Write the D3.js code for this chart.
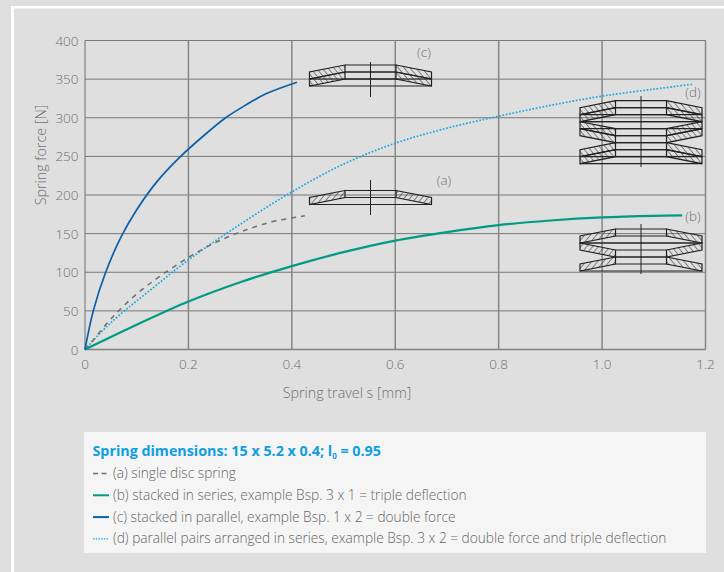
<!DOCTYPE html>
<html>
<head>
<meta charset="utf-8">
<script src="https://cdn.jsdelivr.net/npm/d3@7"></script>
<style>
  html, body { margin: 0; padding: 0; background: #dfdfdf; }
  svg { display: block; font-family: "Open Sans", sans-serif; font-weight: 300; }
</style>
</head>
<body>
<svg id="chart" width="724" height="572"></svg>
<script>
// Values
const xTicks = [0, 0.2, 0.4, 0.6, 0.8, 1.0, 1.2];
const yTicks = [0, 50, 100, 150, 200, 250, 300, 350, 400];
const xTickLabels = ["0", "0.2", "0.4", "0.6", "0.8", "1.0", "1.2"];

const travelA = [0, 0.013, 0.048, 0.102, 0.183, 0.245, 0.3, 0.36, 0.425];
const forceA = [0, 10, 38, 73, 112, 136, 152, 165, 173];

const travelB = [0, 0.1, 0.2, 0.3, 0.4, 0.5, 0.6, 0.7, 0.8, 0.9, 1.0, 1.1, 1.155];
const forceB = [0, 32, 62, 87, 108, 126, 141, 152, 161, 167, 171, 173, 173.5];

const travelC = [0, 0.016, 0.04, 0.07, 0.1, 0.14, 0.185, 0.23, 0.272, 0.31, 0.35, 0.41];
const forceC = [0, 50, 100, 146, 181, 218, 250, 277, 300, 316, 331, 346];

const travelD = [0, 0.035, 0.0675, 0.132, 0.2, 0.3, 0.4, 0.5, 0.6, 0.7, 0.8, 0.9, 1.0, 1.1, 1.176];
const forceD = [0, 25, 45, 80, 116, 162, 204, 240, 267, 286.5, 302, 316, 328, 337, 343.5];

const legendLines = [
  "(a) single disc spring",
  "(b) stacked in series, example Bsp. 3 x 1 = triple deflection",
  "(c) stacked in parallel, example Bsp. 1 x 2 = double force",
  "(d) parallel pairs arranged in series, example Bsp. 3 x 2 = double force and triple deflection"
];

const textColor = "#6f6f6f";
const green = "#009b84", blue = "#0a5fa8", cyan = "#19a9e2", dash = "#6f6f6f";
const ink = "#222";

const svg = d3.select("#chart");

// white corner of the frame
svg.append("rect").attr("x", 11).attr("y", 6).attr("width", 713).attr("height", 2.5).attr("fill", "#fff");
svg.append("rect").attr("x", 11).attr("y", 6).attr("width", 3).attr("height", 566).attr("fill", "#fff");

const x = d3.scaleLinear().domain([0, 1.2]).range([85, 705.5]);
const y = d3.scaleLinear().domain([0, 400]).range([349.5, 40.5]);

// grid
svg.append("g").selectAll("line").data(yTicks).enter().append("line")
  .attr("x1", x(0)).attr("x2", x(1.2))
  .attr("y1", d => y(d)).attr("y2", d => y(d))
  .attr("stroke", d => d === 0 ? "#808080" : "#777").attr("stroke-width", d => d === 0 ? 1.4 : 1);
svg.append("g").selectAll("line").data(xTicks).enter().append("line")
  .attr("x1", d => x(d)).attr("x2", d => x(d))
  .attr("y1", y(400)).attr("y2", y(0))
  .attr("stroke", d => d === 0 ? "#6e6e6e" : "#868686").attr("stroke-width", d => d === 0 ? 1 : 1.5);

// tick labels
svg.append("g").selectAll("text").data(yTicks).enter().append("text")
  .attr("x", 78.5).attr("y", d => y(d) + 5)
  .attr("text-anchor", "end").attr("font-size", 13.5).attr("fill", textColor)
  .text(d => d);
svg.append("g").selectAll("text").data(xTicks).enter().append("text")
  .attr("x", d => x(d)).attr("y", 369)
  .attr("text-anchor", "middle").attr("font-size", 13.5).attr("fill", textColor)
  .text((d, i) => xTickLabels[i]);

svg.append("text").attr("x", 347).attr("y", 398)
  .attr("text-anchor", "middle").attr("font-size", 14.3).attr("fill", textColor)
  .text("Spring travel s [mm]");
svg.append("text").attr("transform", "translate(46,155) rotate(-90)")
  .attr("text-anchor", "middle").attr("font-size", 14.3).attr("fill", textColor)
  .text("Spring force [N]");

// hatch for the disc sections
const defs = svg.append("defs");
[["hatchF", 40], ["hatchB", -40]].forEach(([id, angle]) => {
  defs.append("pattern")
    .attr("id", id).attr("patternUnits", "userSpaceOnUse")
    .attr("width", 4.5).attr("height", 6).attr("patternTransform", `rotate(${angle})`)
    .append("line").attr("x1", 0).attr("x2", 0).attr("y1", 0).attr("y2", 6)
    .attr("stroke", "#333").attr("stroke-width", 1.1);
});

// one disc section: t is the top of the inner edge, flip turns the cone over
function disc(g, cx, t, flip, hatchL, hatchR) {
  const ri = 25.5, ro = 61, h = 7;
  const inTop = flip ? t + h : t, outTop = flip ? t : t + h;
  [[-1, hatchL], [1, hatchR]].forEach(([s, f]) => {
    g.append("path")
      .attr("d", `M${cx + s * ri},${inTop}L${cx + s * ro},${outTop}L${cx + s * ro},${outTop + h}L${cx + s * ri},${inTop + h}Z`)
      .attr("fill", `url(#${f})`).attr("stroke", ink).attr("stroke-width", 1.2);
  });
  [[ri, inTop], [ri, inTop + h], [ro, flip ? outTop : outTop + h]].forEach(([r, ly]) => {
    g.append("line").attr("x1", cx - r).attr("x2", cx + r).attr("y1", ly).attr("y2", ly)
      .attr("stroke", ink).attr("stroke-width", 1.2);
  });
}

// rows: offset from the top, flipped or not
function drawStack(cx, top, rows, hatchL, hatchR, y1, y2) {
  const g = svg.append("g");
  rows.forEach(r => disc(g, cx, top + r[0], r[1], hatchL, hatchR));
  g.append("line").attr("x1", cx).attr("x2", cx).attr("y1", y1).attr("y2", y2)
    .attr("stroke", ink).attr("stroke-width", 1);
}
drawStack(370.5, 65, [[0, false], [7, false]], "hatchB", "hatchB", 62, 97);
drawStack(370.5, 190.5, [[0, false]], "hatchF", "hatchF", 180, 215);
drawStack(641, 229, [[0, false], [14, true], [28, false]], "hatchF", "hatchB", 224, 274);
drawStack(641, 100.7, [[0, false], [7, false], [21, true], [28, true], [42, false], [49, false]], "hatchB", "hatchB", 96, 167);

// curves
const line = d3.line().x(d => x(d[0])).y(d => y(d[1])).curve(d3.curveCatmullRom.alpha(0.5));

svg.append("path").datum(d3.zip(travelD, forceD)).attr("d", line)
  .attr("fill", "none").attr("stroke", cyan).attr("stroke-width", 1.7).attr("stroke-dasharray", "1.7 1.7");
svg.append("path").datum(d3.zip(travelA, forceA)).attr("d", line)
  .attr("fill", "none").attr("stroke", dash).attr("stroke-width", 1.5).attr("stroke-dasharray", "5 5");
svg.append("path").datum(d3.zip(travelB, forceB)).attr("d", line)
  .attr("fill", "none").attr("stroke", green).attr("stroke-width", 2.2);
svg.append("path").datum(d3.zip(travelC, forceC)).attr("d", line)
  .attr("fill", "none").attr("stroke", blue).attr("stroke-width", 1.7);

// curve letters
const letters = [["(c)", 424, 57], ["(a)", 444, 185], ["(d)", 693, 97], ["(b)", 693, 221]];
svg.append("g").selectAll("text").data(letters).enter().append("text")
  .attr("x", d => d[1]).attr("y", d => d[2])
  .attr("text-anchor", "middle").attr("font-size", 13.5).attr("fill", textColor)
  .text(d => d[0]);

// legend box
svg.append("rect").attr("x", 84).attr("y", 432).attr("width", 622).attr("height", 121).attr("fill", "#f5f5f5");

const title = svg.append("text").attr("x", 92.5).attr("y", 456)
  .attr("font-size", 14.3).attr("font-weight", 700).attr("fill", "#0e9fe0");
title.append("tspan").text("Spring dimensions: 15 x 5.2 x 0.4; l");
title.append("tspan").attr("font-size", 8).attr("dy", 3).text("0");
title.append("tspan").attr("dy", -3).text(" = 0.95");

svg.append("g").selectAll("text").data(legendLines).enter().append("text")
  .attr("x", 113).attr("y", (d, i) => 478 + i * 21.8)
  .attr("font-size", 13.7).attr("fill", "#666")
  .text(d => d);

const keys = [[dash, 1.5, "5 3.5"], [green, 2, null], [blue, 2, null], [cyan, 1.3, "1.5 1.2"]];
svg.append("g").selectAll("line").data(keys).enter().append("line")
  .attr("x1", 93).attr("x2", 109)
  .attr("y1", (d, i) => 473.5 + i * 21.8).attr("y2", (d, i) => 473.5 + i * 21.8)
  .attr("stroke", d => d[0]).attr("stroke-width", d => d[1]).attr("stroke-dasharray", d => d[2]);
</script>
</body>
</html>
